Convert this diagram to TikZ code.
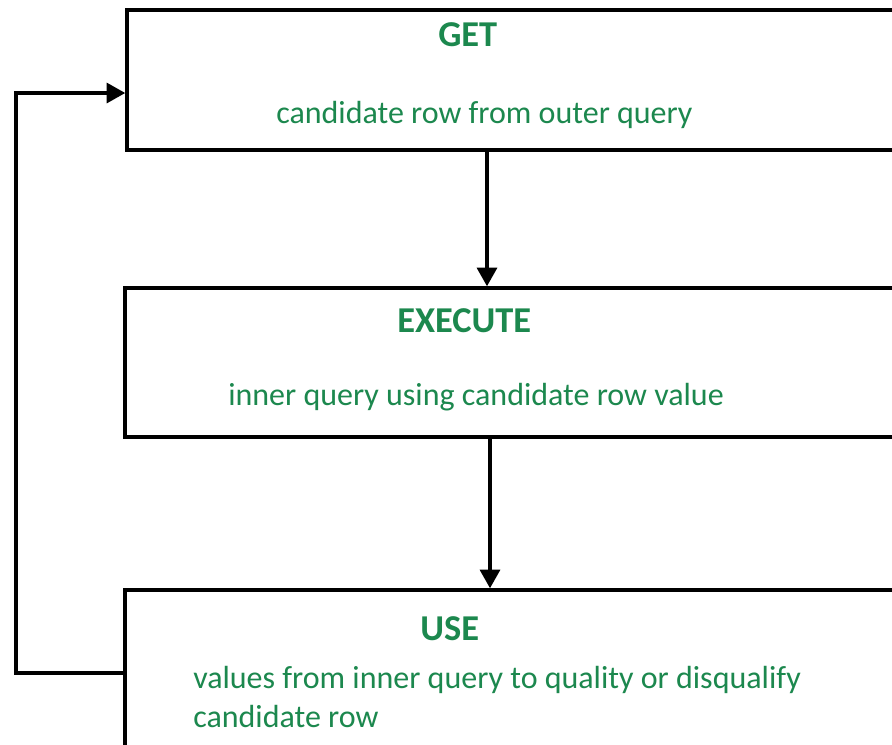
\documentclass[tikz,border=0pt]{standalone}
\usepackage{fontspec}
\setmainfont{Carlito}
\usetikzlibrary{arrows.meta}
\definecolor{txtgreen}{RGB}{28,136,78}
\begin{document}
\begin{tikzpicture}[x=0.75pt,y=-0.75pt,
  boxstyle/.style={draw=black,line width=2.6pt,rectangle,inner sep=0pt,fill=white},
  title/.style={text=txtgreen,font=\fontsize{27.3}{32}\selectfont\bfseries,inner sep=0pt,anchor=base west},
  body/.style={text=txtgreen,font=\fontsize{24}{29}\selectfont,inner sep=0pt,anchor=base west},
  conn/.style={draw=black,line width=2.5pt,-{Triangle[length=14pt,width=15pt]}}]
\useasboundingbox (0,0) rectangle (892,744);
\clip (0,0) rectangle (892,744);
\fill[white] (0,0) rectangle (892,744);
% boxes
\node[boxstyle,minimum width=654.75pt,minimum height=105pt] (get) at (563.5,80) {};
\node[boxstyle,minimum width=656.25pt,minimum height=111.75pt] (exec) at (562.5,362.5) {};
\node[boxstyle,minimum width=656.25pt,minimum height=157.5pt] (use) at (562.5,695) {};
% texts
\node[title] (t1) at (438,46) {GET};
\node[body] (b1) at (276,123) {candidate row from outer query};
\node[title] (t2) at (397,332) {EXECUTE};
\node[body] (b2) at (228,405) {inner query using candidate row value};
\node[title] (t3) at (420,640) {USE};
\node[body] (b3) at (193,688) {values from inner query to quality or disqualify};
\node[body] (b4) at (193,727) {candidate row};
% connectors
\coordinate (a1) at (487,0);
\coordinate (a2) at (490,0);
\coordinate (fbl) at (16,0);
\coordinate (yout) at (0,673);
\coordinate (yin) at (0,93);
\draw[conn] (get.south -| a1) -- (exec.north -| a1);
\draw[conn] (exec.south -| a2) -- (use.north -| a2);
\draw[conn] (use.west |- yout) -- (fbl |- yout) -- (fbl |- yin) -- (get.west |- yin);
\end{tikzpicture}
\end{document}
